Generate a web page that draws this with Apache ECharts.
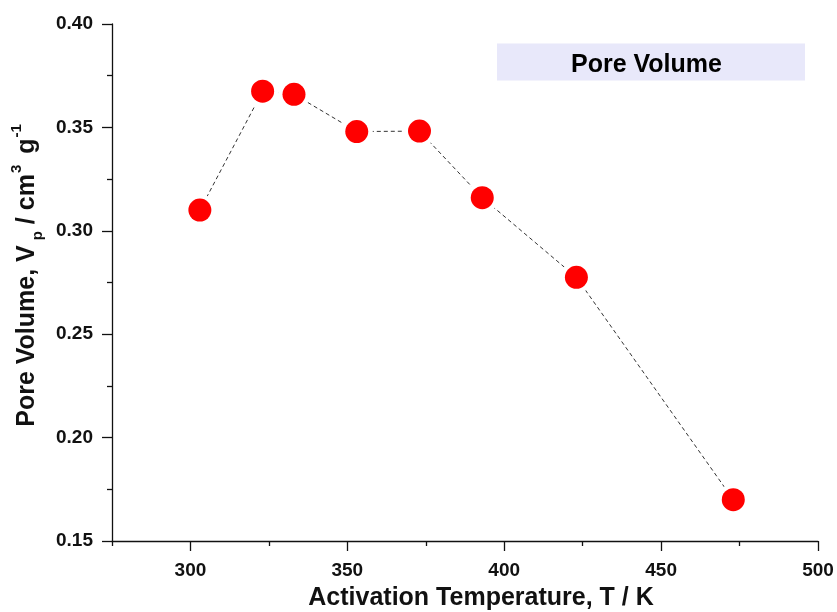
<!DOCTYPE html>
<html>
<head>
<meta charset="utf-8">
<script src="https://cdn.jsdelivr.net/npm/echarts@6/dist/echarts.min.js"></script>
<style>
  html, body { margin: 0; padding: 0; background: #fff; }
  #chart { width: 837px; height: 612px; }
</style>
</head>
<body>
<div id="chart"></div>
<script>
// Activation temperature (K) and measured pore volume (cm3/g)
const temperatures = [303, 323, 333, 353, 373, 393, 423, 473];
const poreVolumes = [0.310, 0.3675, 0.366, 0.348, 0.3482, 0.316, 0.2775, 0.170];

// Axis ticks
const xMajorTicks = [300, 350, 400, 450, 500];
const xMinorTicks = [275, 325, 375, 425, 475];

const seriesName = 'Pore Volume';

const points = temperatures.map((t, i) => [t, poreVolumes[i]]);

const FONT = '"Liberation Sans", Arial, sans-serif';
const INK = '#111';

const chart = echarts.init(document.getElementById('chart'), null, { renderer: 'canvas' });

const baseX = {
  type: 'value',
  min: 275,
  max: 500,
  splitLine: { show: false },
  axisLine: { show: true, onZero: false, lineStyle: { color: INK, width: 1.3 } }
};

chart.setOption({
  animation: false,
  backgroundColor: '#ffffff',
  title: {
    text: seriesName,
    left: 497,
    top: 44,
    backgroundColor: '#e8e8fa',
    padding: [9, 74, 3, 74],
    textStyle: { fontFamily: FONT, fontWeight: 'bold', fontSize: 25, color: '#000', width: 160, align: 'center', lineHeight: 24 }
  },
  grid: { left: 112, right: 19, top: 24, bottom: 71, containLabel: false, outerBoundsMode: 'none' },
  xAxis: [
    Object.assign({}, baseX, {
      name: 'Activation Temperature, T / K',
      nameLocation: 'middle',
      nameGap: 45,
      nameTextStyle: { fontFamily: FONT, fontWeight: 'bold', fontSize: 25, color: INK, padding: [0, 0, 0, 32] },
      axisTick: { show: true, customValues: xMajorTicks, length: 10, lineStyle: { color: INK, width: 1.3 } },
      axisLabel: {
        show: true, customValues: xMajorTicks, margin: 20,
        fontFamily: FONT, fontWeight: 'bold', fontSize: 19, color: INK
      }
    }),
    Object.assign({}, baseX, {
      position: 'bottom',
      axisLine: { show: false },
      axisTick: { show: true, customValues: xMinorTicks, length: 5, lineStyle: { color: INK, width: 1.3 } },
      axisLabel: { show: false }
    })
  ],
  yAxis: {
    type: 'value',
    min: 0.15,
    max: 0.40,
    interval: 0.05,
    splitLine: { show: false },
    axisLine: { show: true, onZero: false, lineStyle: { color: INK, width: 1.3 } },
    axisTick: { show: true, length: 10, lineStyle: { color: INK, width: 1.3 } },
    minorTick: { show: true, splitNumber: 2, length: 5, lineStyle: { color: INK, width: 1.3 } },
    axisLabel: {
      margin: 19,
      fontFamily: FONT, fontWeight: 'bold', fontSize: 19, color: INK,
      formatter: v => v.toFixed(2)
    },
    name: '{m|Pore Volume, V}{sub|p}{m| / cm}{sup|3}{m| g}{sup|-1}',
    nameLocation: 'middle',
    nameGap: 48,
    nameTextStyle: {
      color: INK,
      padding: [0, 0, 0, 18],
      rich: {
        m: { fontFamily: FONT, fontWeight: 'bold', fontSize: 25, color: INK, lineHeight: 36, verticalAlign: 'middle' },
        sub: { fontFamily: FONT, fontWeight: 'bold', fontSize: 15, color: INK, lineHeight: 14, verticalAlign: 'bottom', padding: [0, 0, 0, 5] },
        sup: { fontFamily: FONT, fontWeight: 'bold', fontSize: 15, color: INK, lineHeight: 14, verticalAlign: 'top', padding: [0, 4, 0, 1] }
      }
    }
  },
  series: [
    {
      name: seriesName,
      type: 'line',
      data: points,
      symbol: 'none',
      lineStyle: { color: '#333', width: 1, type: [4, 3] },
      z: 1
    },
    {
      // white halo keeps the dashed connector clear of each marker
      type: 'scatter',
      data: points,
      symbolSize: 32,
      itemStyle: { color: '#ffffff', opacity: 1 },
      z: 2,
      silent: true
    },
    {
      name: seriesName,
      type: 'scatter',
      data: points,
      symbolSize: 23,
      itemStyle: { color: '#ff0000', opacity: 1 },
      z: 3
    }
  ]
});
</script>
</body>
</html>
